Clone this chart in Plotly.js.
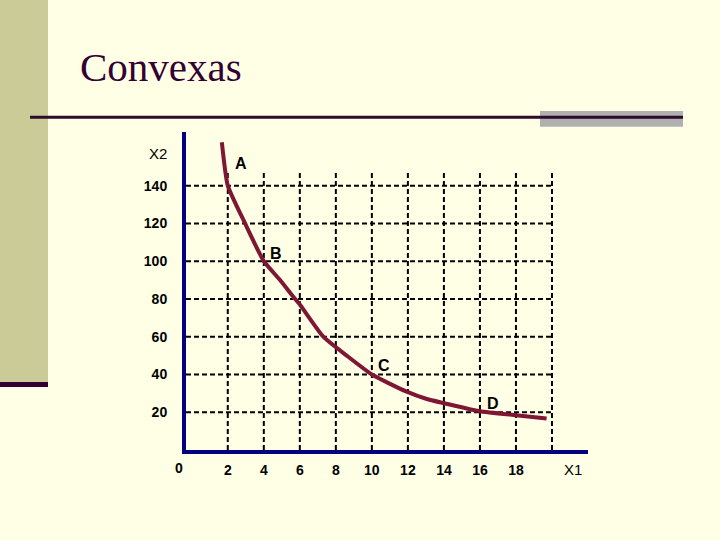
<!DOCTYPE html>
<html>
<head>
<meta charset="utf-8">
<script src="https://cdn.plot.ly/plotly-3.0.1.min.js"></script>
<style>
  html, body { margin: 0; padding: 0; background: #FFFFE5; }
  #chart { width: 720px; height: 540px; }
</style>
</head>
<body>
<div id="chart"></div>
<script>
// ---- data ----
const curveX1 = [1.67, 2.0, 2.96, 4.0, 4.9, 5.65, 6.0, 7.3, 8.6, 10.0, 11.9, 13.05, 14.5, 16.0, 18.0, 19.7];
const curveX2 = [163, 140, 120, 100, 90, 81, 77, 60, 50, 40, 31, 27, 23.7, 20.5, 18.4, 16.7];

const pointLabels = ["A", "B", "C", "D"];
const pointX = [2.74, 4.68, 10.7, 16.7];
const pointY = [151.5, 104, 44.8, 24.8];

const xTickVals = [2, 4, 6, 8, 10, 12, 14, 16, 18];
const xTickText = ["2", "4", "6", "8", "10", "12", "14", "16", "18"];
const yTickVals = [20, 40, 60, 80, 100, 120, 140];
const yTickText = ["20", "40", "60", "80", "100", "120", "140"];

const gridX = [2, 4, 6, 8, 10, 12, 14, 16, 18, 20];
const gridY = [20, 40, 60, 80, 100, 120, 140];

const titleText = "Convexas";
const xAxisLabel = "X1";
const yAxisLabel = "X2";

// ---- layout geometry ----
const W = 720, H = 540;
const M = { l: 186, r: 132, t: 132, b: 90 };
const PW = W - M.l - M.r, PH = H - M.t - M.b;
const px2paperX = px => (px - M.l) / PW;
const px2paperY = py => (H - M.b - py) / PH;

const xRange = [-0.32, 22.0];
const yRange = [0, 168.4];
const gridTop = 147;

const shapes = [];
// decorative slide elements
shapes.push({ type: "rect", xref: "paper", yref: "paper", layer: "below",
  x0: px2paperX(0), x1: px2paperX(48), y0: px2paperY(382), y1: px2paperY(0),
  fillcolor: "#CBCB98", line: { width: 0 } });
shapes.push({ type: "rect", xref: "paper", yref: "paper", layer: "below",
  x0: px2paperX(0), x1: px2paperX(48), y0: px2paperY(387), y1: px2paperY(382),
  fillcolor: "#330033", line: { width: 0 } });
shapes.push({ type: "rect", xref: "paper", yref: "paper", layer: "below",
  x0: px2paperX(540), x1: px2paperX(683), y0: px2paperY(126.7), y1: px2paperY(111),
  fillcolor: "#B0B0B0", line: { width: 0 } });
shapes.push({ type: "line", xref: "paper", yref: "paper", layer: "below",
  x0: px2paperX(30), x1: px2paperX(683), y0: px2paperY(117.2), y1: px2paperY(117.2),
  line: { color: "#2E0A2E", width: 3 } });

// dashed grid
const dashStyle = { color: "#000000", width: 2, dash: "5px,3px" };
gridX.forEach(v => shapes.push({ type: "line", xref: "x", yref: "y", layer: "below",
  x0: v, x1: v, y0: 0, y1: gridTop, line: dashStyle }));
gridY.forEach(v => shapes.push({ type: "line", xref: "x", yref: "y", layer: "below",
  x0: xRange[0], x1: gridX[gridX.length - 1], y0: v, y1: v, line: dashStyle }));

const labelFont = { family: "Liberation Sans, Arial, sans-serif", size: 16, color: "#000000", weight: "bold" };
const axisLabelFont = { family: "Liberation Sans, Arial, sans-serif", size: 15, color: "#000000" };
const tickFont = { family: "Liberation Sans, Arial, sans-serif", size: 14, color: "#000000", weight: "bold" };

const annotations = [];
pointLabels.forEach((t, i) => annotations.push({
  x: pointX[i], y: pointY[i], xref: "x", yref: "y", text: t, showarrow: false,
  xanchor: "center", yanchor: "middle", font: labelFont
}));
annotations.push({ x: 0, y: 0, xref: "x", yref: "y", text: "0", showarrow: false,
  xanchor: "center", yanchor: "middle", xshift: -13, yshift: -18, font: tickFont });
annotations.push({ x: px2paperX(157.7), y: px2paperY(153), xref: "paper", yref: "paper",
  xanchor: "center", yanchor: "middle",
  text: yAxisLabel, showarrow: false, font: axisLabelFont });
annotations.push({ x: px2paperX(572.5), y: px2paperY(469), xref: "paper", yref: "paper",
  xanchor: "center", yanchor: "middle",
  text: xAxisLabel, showarrow: false, font: axisLabelFont });

const traces = [{
  type: "scatter", mode: "lines", x: curveX1, y: curveX2,
  line: { color: "#7F1734", width: 4, shape: "spline", smoothing: 0.5 },
  hoverinfo: "skip", cliponaxis: false
}];

const layout = {
  width: W, height: H,
  margin: M,
  paper_bgcolor: "#FFFFE5",
  plot_bgcolor: "#FFFFE5",
  showlegend: false,
  title: {
    text: titleText,
    font: { family: "Liberation Serif, Times New Roman, serif", size: 41, color: "#330033" },
    x: 80 / W, xanchor: "left", xref: "container",
    y: 1 - 66.5 / H, yanchor: "middle", yref: "container"
  },
  xaxis: {
    range: xRange, showgrid: false, zeroline: false,
    showline: true, linecolor: "#000080", linewidth: 4,
    tickmode: "array", tickvals: xTickVals, ticktext: xTickText,
    ticks: "", ticklabelstandoff: 4, tickfont: tickFont, fixedrange: true
  },
  yaxis: {
    range: yRange, showgrid: false, zeroline: false,
    showline: true, linecolor: "#000080", linewidth: 4,
    tickmode: "array", tickvals: yTickVals, ticktext: yTickText,
    ticks: "", ticklabelstandoff: 12, tickfont: tickFont, fixedrange: true
  },
  shapes: shapes,
  annotations: annotations
};

Plotly.newPlot("chart", traces, layout, { displayModeBar: false, staticPlot: true });
</script>
</body>
</html>
